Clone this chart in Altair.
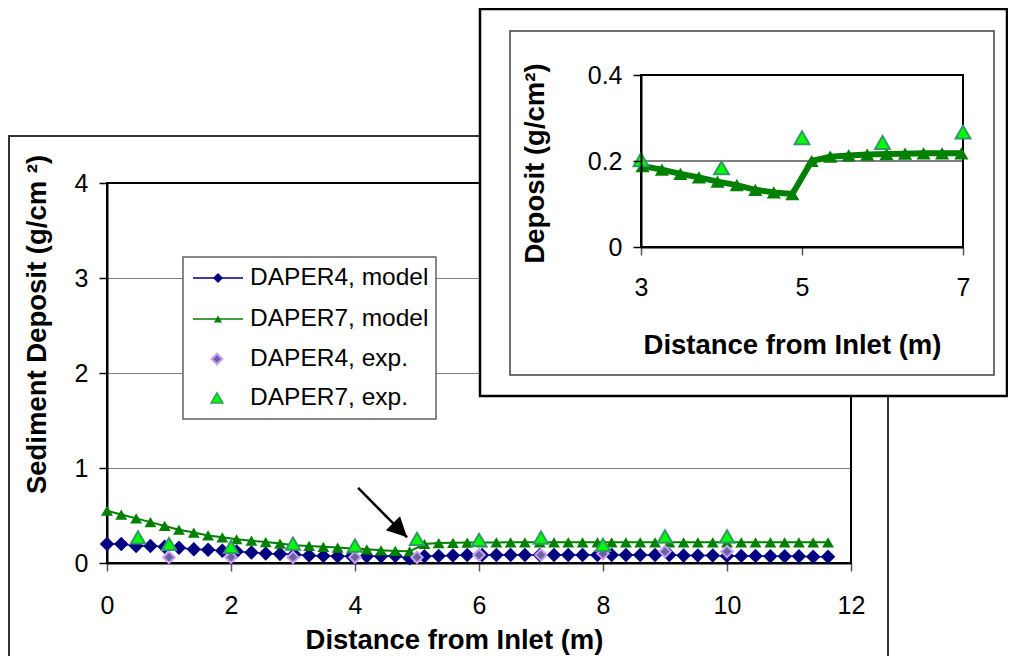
import altair as alt
import pandas as pd

# ---------------- data ----------------
x_model = [0.00, 0.23, 0.47, 0.70, 0.93, 1.16, 1.40, 1.63, 1.86, 2.09,
           2.33, 2.56, 2.79, 3.02, 3.26, 3.49, 3.72, 3.95, 4.19, 4.42,
           4.65, 4.88, 5.12, 5.35, 5.58, 5.81, 6.05, 6.28, 6.51, 6.74,
           6.98, 7.21, 7.44, 7.67, 7.91, 8.14, 8.37, 8.60, 8.84, 9.07,
           9.30, 9.53, 9.77, 10.00, 10.23, 10.46, 10.70, 10.93, 11.16, 11.39, 11.63]
daper4_model = [0.20, 0.20, 0.18, 0.18, 0.17, 0.16, 0.145, 0.14, 0.13, 0.12,
                0.11, 0.10, 0.095, 0.09, 0.08, 0.075, 0.07, 0.07, 0.07, 0.07,
                0.075, 0.05, 0.07, 0.075, 0.08, 0.085, 0.085, 0.085, 0.085, 0.085,
                0.085, 0.085, 0.085, 0.085, 0.085, 0.085, 0.085, 0.085, 0.085, 0.085,
                0.08, 0.08, 0.08, 0.075, 0.075, 0.075, 0.07, 0.07, 0.07, 0.065, 0.065]
daper7_model = [0.55, 0.51, 0.47, 0.43, 0.39, 0.35, 0.32, 0.29, 0.27, 0.25,
                0.235, 0.22, 0.205, 0.188, 0.180, 0.170, 0.162, 0.152, 0.144, 0.133,
                0.127, 0.123, 0.200, 0.210, 0.213, 0.215, 0.216, 0.217, 0.218, 0.218,
                0.218, 0.218, 0.218, 0.218, 0.218, 0.218, 0.218, 0.218, 0.218, 0.218,
                0.218, 0.218, 0.218, 0.218, 0.218, 0.218, 0.218, 0.218, 0.218, 0.218, 0.218]

exp4_x = [1, 2, 3, 4, 5, 6, 7, 8, 9, 10]
exp4_y = [0.06, 0.06, 0.06, 0.06, 0.06, 0.085, 0.085, 0.10, 0.12, 0.12]
exp7_x = [0.5, 1, 2, 3, 4, 5, 6, 7, 8, 9, 10]
exp7_y = [0.27, 0.20, 0.17, 0.203, 0.184, 0.254, 0.243, 0.267, 0.19, 0.28, 0.28]

arrow_x, arrow_y = [4.05], [0.79]
arrow_x2, arrow_y2 = [4.84], [0.27]

main_x_ticks = [0, 2, 4, 6, 8, 10, 12]
main_y_ticks = [0, 1, 2, 3, 4]
inset_x_ticks = [3, 5, 7]
inset_y_ticks = [0, 0.2, 0.4]
inset_x_range = [3, 7]
inset_grid_y = [0.2]

legend_labels = ["DAPER4, model", "DAPER7, model", "DAPER4, exp.", "DAPER7, exp."]

# ---------------- frames ----------------
m4 = pd.DataFrame({"x": x_model, "y": daper4_model})
m7 = pd.DataFrame({"x": x_model, "y": daper7_model})
e4 = pd.DataFrame({"x": exp4_x, "y": exp4_y})
e7 = pd.DataFrame({"x": exp7_x, "y": exp7_y})
arr = pd.DataFrame({"x": arrow_x, "y": arrow_y, "x2": arrow_x2, "y2": arrow_y2})
head = pd.DataFrame({"x": arrow_x2, "y": arrow_y2})
m7_in = m7[(m7.x >= inset_x_range[0]) & (m7.x <= inset_x_range[1] + 0.05)]
e7_in = e7[(e7.x >= inset_x_range[0]) & (e7.x <= inset_x_range[1])]
grid_in = pd.DataFrame({"x": [inset_x_range[0]], "x2": [inset_x_range[1]], "y": inset_grid_y})
one = pd.DataFrame({"k": [0]})

FONT = "Liberation Sans"
W, H = 744, 380
NAVY, GREEN = "#000080", "#008000"
E4_FILL, E4_STROKE = "#666699", "#CC99FF"
E7_FILL, E7_STROKE = "#00FF00", "#339966"


def box(x, x2, y, y2, stroke, sw, fill=None):
    props = dict(stroke=stroke, strokeWidth=sw)
    if fill:
        props["fill"] = fill
    else:
        props["fillOpacity"] = 0
    return alt.Chart(one).mark_rect(**props).encode(
        x=alt.value(x), x2=alt.value(x2), y=alt.value(y), y2=alt.value(y2))


common_axis = dict(labelFont=FONT, labelFontSize=25, labelColor="black",
                   titleFont=FONT, titleFontSize=27.5, titleFontWeight="bold",
                   titleColor="black", domainColor="black", domainWidth=2,
                   tickSize=8, tickWidth=1.5, labelOverlap=False)

# ---------------- main chart ----------------
mx = alt.X("x:Q", scale=alt.Scale(domain=[0, 12], nice=False),
           axis=alt.Axis(values=main_x_ticks, format="d", grid=False,
                         title="Distance from Inlet (m)", tickColor="#555555",
                         labelPadding=22, labelFlush=False,
                         titleX=347, titleY=85, titleAlign="center",
                         titleBaseline="alphabetic", zindex=0, **common_axis))
my = alt.Y("y:Q", scale=alt.Scale(domain=[0, 4], nice=False),
           axis=alt.Axis(values=main_y_ticks, format="d", grid=True,
                         gridColor="#808080", gridWidth=1,
                         title="Sediment Deposit (g/cm ²)", tickColor="black",
                         labelPadding=11, titleAngle=270, titleX=-70, titleY=141,
                         titleAlign="center", titleBaseline="middle", zindex=0,
                         **common_axis))

main_layers = [
    box(0, W, 0, H, "black", 2),
    alt.Chart(m4).mark_line(color=NAVY, strokeWidth=1.5).encode(x=mx, y=my),
    alt.Chart(m4).mark_point(shape="diamond", filled=True, color=NAVY, size=210, opacity=1).encode(x=mx, y=my),
    alt.Chart(m7).mark_line(color=GREEN, strokeWidth=2).encode(x=mx, y=my),
    alt.Chart(m7).mark_point(shape="triangle-up", filled=True, color=GREEN, size=140, opacity=1).encode(x=mx, y=my),
    alt.Chart(e4).mark_point(shape="diamond", filled=True, fill=E4_FILL, stroke=E4_STROKE,
                             strokeWidth=2, size=130, opacity=1).encode(x=mx, y=my),
    alt.Chart(e7).mark_point(shape="triangle-up", filled=True, fill=E7_FILL, stroke=E7_STROKE,
                             strokeWidth=2, size=200, opacity=1).encode(x=mx, y=my),
    alt.Chart(arr).mark_rule(color="black", strokeWidth=2.5).encode(
        x=mx, y=my, x2="x2:Q", y2="y2:Q"),
    alt.Chart(head).mark_point(shape="M0,0L1,2L-1,2Z", angle=135, size=400,
                               filled=True, color="black", opacity=1).encode(x=mx, y=my),
]

# legend (drawn by hand inside the plot area)
main_layers.append(box(76, 329, 74, 236, "#606060", 1.5, fill="white"))
row_y = [95, 136, 176, 215]
for i, lab in enumerate(legend_labels):
    yy = row_y[i]
    if i == 0:
        main_layers.append(alt.Chart(one).mark_rule(color=NAVY, strokeWidth=1.5).encode(
            x=alt.value(86), x2=alt.value(136), y=alt.value(yy)))
        main_layers.append(alt.Chart(one).mark_point(shape="diamond", filled=True, color=NAVY,
                                                     size=100, opacity=1).encode(x=alt.value(111), y=alt.value(yy)))
    elif i == 1:
        main_layers.append(alt.Chart(one).mark_rule(color=GREEN, strokeWidth=1.5).encode(
            x=alt.value(86), x2=alt.value(136), y=alt.value(yy)))
        main_layers.append(alt.Chart(one).mark_point(shape="triangle-up", filled=True, color=GREEN,
                                                     size=64, opacity=1).encode(x=alt.value(111), y=alt.value(yy)))
    elif i == 2:
        main_layers.append(alt.Chart(one).mark_point(shape="diamond", filled=True, fill=E4_FILL,
                                                     stroke=E4_STROKE, strokeWidth=2, size=110,
                                                     opacity=1).encode(x=alt.value(110), y=alt.value(yy)))
    else:
        main_layers.append(alt.Chart(one).mark_point(shape="triangle-up", filled=True, fill=E7_FILL,
                                                     stroke=E7_STROKE, strokeWidth=1.5, size=140,
                                                     opacity=1).encode(x=alt.value(110), y=alt.value(yy)))
    main_layers.append(alt.Chart(one).mark_text(text=lab, font=FONT, fontSize=24.5, color="black",
                                                align="left", baseline="middle").encode(
        x=alt.value(143), y=alt.value(yy)))

main = alt.layer(*main_layers)

# ---------------- inset ----------------
ix = alt.X("x:Q", scale=alt.Scale(domain=inset_x_range, range=[534, 856], nice=False),
           axis=alt.Axis(values=inset_x_ticks, format="d", grid=False, orient="bottom",
                         offset=-316, title="Distance from Inlet (m)", tickColor="#555555",
                         labelPadding=20, labelFlush=False, titleX=685, titleY=106,
                         titleAlign="center", titleBaseline="alphabetic", zindex=1,
                         **common_axis))
iy = alt.Y("y:Q", scale=alt.Scale(domain=[0, 0.4], range=[64, -108], nice=False),
           axis=alt.Axis(values=inset_y_ticks, format="~g", grid=False, orient="left",
                         offset=-534, title="Deposit (g/cm²)", tickColor="black",
                         labelPadding=11, titleAngle=270, titleX=-106, titleY=-20,
                         titleAlign="center", titleBaseline="middle", zindex=1,
                         **common_axis))

inset = alt.layer(
    box(373, 900, -174, 213, "black", 2.5, fill="white"),
    box(403, 887, -152, 192, "#404040", 1.5),
    box(534, 856, -108, 64, "black", 2),
    alt.Chart(grid_in).mark_rule(color="black", strokeWidth=1).encode(x=ix, x2="x2:Q", y=iy),
    alt.Chart(m7_in).mark_line(color=GREEN, strokeWidth=6).encode(x=ix, y=iy),
    alt.Chart(m7_in).mark_point(shape="triangle-up", filled=True, color=GREEN, size=200,
                                opacity=1).encode(x=ix, y=iy),
    alt.Chart(e7_in).mark_point(shape="triangle-up", filled=True, fill=E7_FILL, stroke=E7_STROKE,
                                strokeWidth=2, size=220, opacity=1).encode(x=ix, y=iy),
)

outer = box(-98, 781, -47, 600, "#333333", 2)

chart = alt.layer(outer, main, inset).resolve_scale(
    x="independent", y="independent"
).properties(
    width=W, height=H,
    padding={"left": 99, "top": 175, "right": 157, "bottom": 93},
    autosize=alt.AutoSizeParams(type="none"),
    background="white",
).configure_view(strokeWidth=0)

chart.save("out.html", embed_options={"renderer": "svg", "actions": False})
